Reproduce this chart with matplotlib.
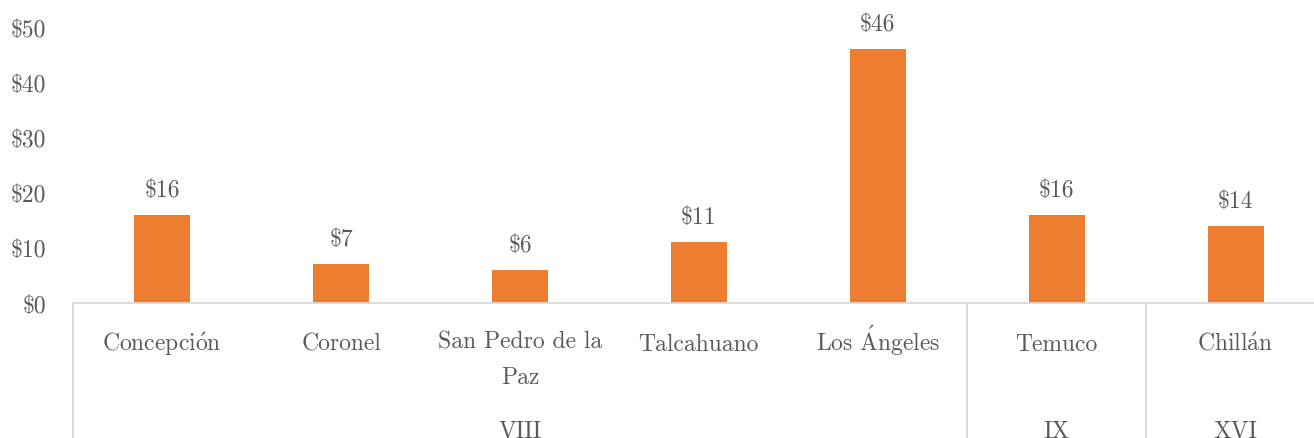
import matplotlib
matplotlib.use("Agg")
import matplotlib.pyplot as plt

cities = ['Concepción', 'Coronel', 'San Pedro de la\nPaz', 'Talcahuano',
          'Los Ángeles', 'Temuco', 'Chillán']
values = [16, 7, 6, 11, 46, 16, 14]
regions = ['VIII', 'IX', 'XVI']
region_sizes = [5, 1, 1]
yticks = [0, 10, 20, 30, 40, 50]

plt.rcParams['font.family'] = ['cmr10', 'DejaVu Serif']
plt.rcParams['mathtext.fontset'] = 'cm'
plt.rcParams['axes.unicode_minus'] = False

txt_color = '#595959'
line_color = '#d9d9d9'
fs = 17

# cmr10 has no accented letters, so build them with mathtext accents
accents = {'ó': r'$\acute{\mathrm{o}}$', 'á': r'$\acute{\mathrm{a}}$',
           'Á': r'$\acute{\mathrm{A}}$'}


def tex_label(s):
    for k, v in accents.items():
        s = s.replace(k, v)
    return s


fig = plt.figure(figsize=(13.14, 4.39), dpi=100)
ax = fig.add_axes([72.7 / 1314, 135 / 439, (1325 - 72.7) / 1314, 276 / 439])

x = list(range(len(cities)))
ax.bar(x, values, width=0.313, color='#ED7D31', zorder=2)

ax.set_xlim(-0.5, len(cities) - 0.5)
ax.set_ylim(0, 50)
ax.set_yticks(yticks)
ax.set_yticklabels(['$' + str(v) for v in yticks], fontsize=fs, color=txt_color)
ax.tick_params(axis='y', length=0, pad=19.4)
ax.set_xticks([])

for s in ['top', 'right', 'left']:
    ax.spines[s].set_visible(False)
ax.spines['bottom'].set_color(line_color)
ax.spines['bottom'].set_linewidth(1.3)

# value labels
for xi, v in zip(x, values):
    ax.annotate('$' + str(v), xy=(xi, v), xytext=(0, 19), textcoords='offset pixels',
                ha='center', va='baseline', fontsize=fs, color=txt_color)

# category labels (baseline refers to the last line)
trans = ax.get_xaxis_transform()
for xi, c in zip(x, cities):
    nlines = c.count('\n')
    ax.annotate(tex_label(c), xy=(xi, 0), xycoords=trans,
                xytext=(0, -47 - 32.6 * nlines), textcoords='offset pixels',
                ha='center', va='baseline', fontsize=fs, color=txt_color,
                linespacing=1.73)

# region labels and separators
start = -0.5
ax.plot([start, start], [0, -1], transform=trans, color=line_color, lw=1.3, clip_on=False)
for r, n in zip(regions, region_sizes):
    end = start + n
    ax.annotate(r, xy=((start + end) / 2, 0), xycoords=trans, xytext=(0, -134),
                textcoords='offset pixels', ha='center', va='baseline',
                fontsize=fs, color=txt_color)
    ax.plot([end, end], [0, -1], transform=trans, color=line_color, lw=1.3, clip_on=False)
    start = end

plt.savefig('out.png', dpi=100)
